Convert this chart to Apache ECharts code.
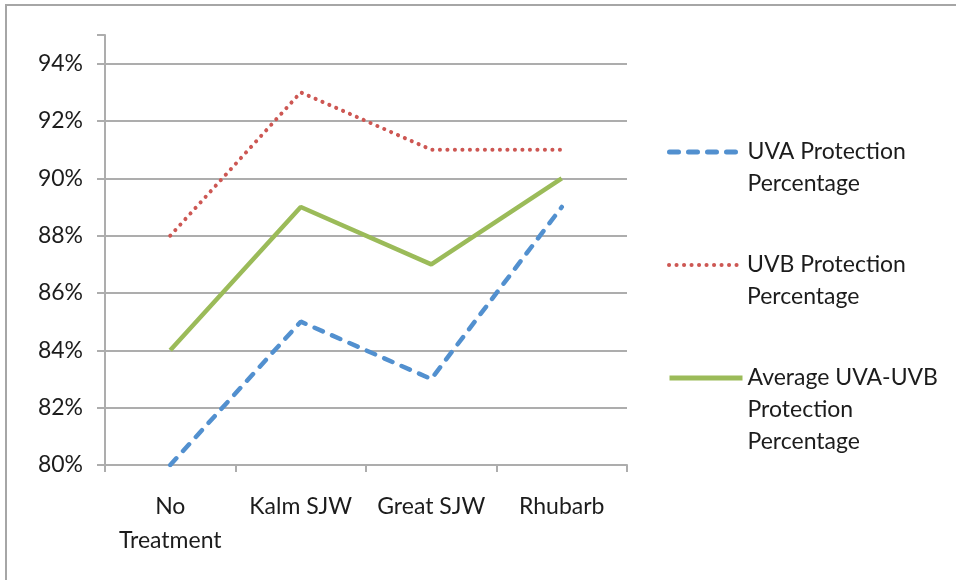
<!DOCTYPE html>
<html>
<head>
<meta charset="utf-8">
<script src="https://cdn.jsdelivr.net/npm/echarts@6/dist/echarts.min.js"></script>
<style>
  html, body { margin: 0; padding: 0; background: #fff; }
  #chart { width: 956px; height: 580px; }
</style>
</head>
<body>
<div id="chart"></div>
<script>
// Treatments along the x axis
const categories = ['No\nTreatment', 'Kalm SJW', 'Great SJW', 'Rhubarb'];

// Protection percentages per treatment
const uvaValues = [80, 85, 83, 89];
const uvbValues = [88, 93, 91, 91];
const avgValues = [84, 89, 87, 90];

const seriesNames = [
  'UVA Protection\nPercentage',
  'UVB Protection\nPercentage',
  'Average UVA-UVB\nProtection\nPercentage'
];

const FONT = 'Lato, "Open Sans", sans-serif';
const TEXT = '#1c1c1c';
const AXIS = '#adadad';
const LINE_H = 32;

const BLUE = '#5290cf';
const RED = '#cd5753';
const GREEN = '#9bbb59';

// One legend block per series, each on its own row. Leading blank lines
// keep the first line of the wrapped name level with the swatch.
function legendBlock(name, top, swatchWidth) {
  const lines = name.split('\n').length;
  return {
    orient: 'vertical',
    left: 667,
    top: top,
    padding: 0,
    itemWidth: 73,
    itemHeight: 14,
    itemGap: 5,
    data: [{ name: name }],
    formatter: n => '\n'.repeat(lines - 1) + n,
    itemStyle: { opacity: 0 },
    lineStyle: { width: swatchWidth },
    textStyle: {
      fontFamily: FONT,
      fontSize: 23,
      color: TEXT,
      lineHeight: LINE_H
    }
  };
}

const chart = echarts.init(document.getElementById('chart'), null, { renderer: 'canvas' });

chart.setOption({
  animation: false,
  backgroundColor: '#fff',
  grid: { left: 105, right: 329, top: 35, bottom: 115, containLabel: false },
  legend: [
    legendBlock(seriesNames[0], 104, 5),
    legendBlock(seriesNames[1], 217, 4),
    legendBlock(seriesNames[2], 298, 5)
  ],
  xAxis: {
    type: 'category',
    data: categories,
    boundaryGap: true,
    axisLine: { lineStyle: { color: AXIS, width: 2 } },
    axisTick: { show: true, length: 7, alignWithLabel: false, lineStyle: { color: AXIS, width: 2 } },
    axisLabel: {
      interval: 0,
      margin: 25,
      fontFamily: FONT,
      fontSize: 23,
      color: TEXT,
      lineHeight: 34
    },
    splitLine: { show: false }
  },
  yAxis: {
    type: 'value',
    min: 80,
    max: 95,
    interval: 2,
    axisLine: { show: true, lineStyle: { color: AXIS, width: 2 } },
    axisTick: { show: true, length: 8, lineStyle: { color: AXIS, width: 2 } },
    axisLabel: {
      margin: 22,
      fontFamily: FONT,
      fontSize: 23,
      color: TEXT,
      formatter: v => (v > 94 ? '' : v + '%')
    },
    splitLine: {
      show: true,
      lineStyle: {
        width: 2,
        color: [AXIS, AXIS, AXIS, AXIS, AXIS, AXIS, AXIS, AXIS, 'rgba(0,0,0,0)']
      }
    }
  },
  series: [
    {
      name: seriesNames[0],
      type: 'line',
      data: uvaValues,
      symbol: 'none',
      lineStyle: { color: BLUE, width: 4.5, type: [9, 10], cap: 'round' },
      itemStyle: { color: BLUE }
    },
    {
      name: seriesNames[1],
      type: 'line',
      data: uvbValues,
      symbol: 'none',
      lineStyle: { color: RED, width: 4, type: [0.1, 7.4], cap: 'round' },
      itemStyle: { color: RED }
    },
    {
      name: seriesNames[2],
      type: 'line',
      data: avgValues,
      symbol: 'none',
      lineStyle: { color: GREEN, width: 4.5 },
      itemStyle: { color: GREEN }
    }
  ],
  graphic: [
    { type: 'line', shape: { x1: 6, y1: 5, x2: 6, y2: 580 }, style: { stroke: '#a6a6a6', lineWidth: 2 } },
    { type: 'line', shape: { x1: 5, y1: 5, x2: 956, y2: 5 }, style: { stroke: '#a6a6a6', lineWidth: 2 } }
  ]
});
</script>
</body>
</html>
